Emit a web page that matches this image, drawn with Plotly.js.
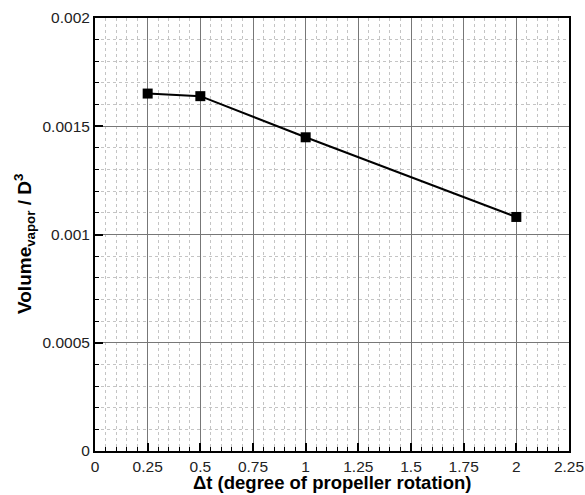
<!DOCTYPE html>
<html>
<head>
<meta charset="utf-8">
<script src="https://cdn.plot.ly/plotly-3.0.1.min.js"></script>
<style>html,body{margin:0;padding:0;background:#fff;}#chart{width:585px;height:495px;}</style>
</head>
<body>
<div id="chart"></div>
<script>
var timeStep = [0.25, 0.5, 1, 2];
var vaporVolume = [0.001651, 0.001639, 0.001449, 0.001081];
var xTickVals = [0, 0.25, 0.5, 0.75, 1, 1.25, 1.5, 1.75, 2, 2.25];
var xTickLabels = ["0", "0.25", "0.5", "0.75", "1", "1.25", "1.5", "1.75", "2", "2.25"];
var yTickVals = [0, 0.0005, 0.001, 0.0015, 0.002];
var yTickLabels = ["0", "0.0005", "0.001", "0.0015", "0.002"];
var xTitle = 'Δt (degree of propeller rotation)';
var yTitle = 'Volume<sub>vapor</sub> / D<sup>3</sup>';

var trace = {
  x: timeStep,
  y: vaporVolume,
  type: 'scatter',
  mode: 'lines+markers',
  line: {color: '#000', width: 2},
  marker: {symbol: 'square', size: 10, color: '#000'},
  showlegend: false
};

var fam = 'Liberation Sans, Arial, sans-serif';

function axis(range, vals, labels, minorStep) {
  return {
    range: range,
    tickvals: vals, ticktext: labels,
    ticks: 'inside', ticklen: 8, tickwidth: 2, tickcolor: '#000',
    showline: true, linecolor: '#000', linewidth: 2, mirror: true,
    showgrid: true, gridcolor: '#777', gridwidth: 1,
    zeroline: false,
    ticklabeloverflow: 'allow',
    tickfont: {family: fam, size: 15.5, color: '#222'},
    minor: {dtick: minorStep, tick0: 0, ticks: 'inside', ticklen: 4, tickwidth: 1, tickcolor: '#000',
            showgrid: true, gridcolor: '#c4c4c4', griddash: 'dot', gridwidth: 1}
  };
}

var layout = {
  width: 585, height: 495,
  margin: {l: 95, r: 16, t: 18, b: 44},
  paper_bgcolor: '#fff', plot_bgcolor: '#fff',
  font: {family: fam, color: '#000'},
  xaxis: axis([0, 2.25], xTickVals, xTickLabels, 0.05),
  yaxis: axis([0, 0.002], yTickVals, yTickLabels, 0.0001),
  annotations: [
    {text: xTitle, xref: 'paper', yref: 'paper', x: 0.5, y: -0.0739,
     xanchor: 'center', yanchor: 'middle', showarrow: false, borderpad: 0,
     font: {family: fam, size: 18.5, color: '#000', weight: 'bold'}},
    {text: yTitle, xref: 'paper', yref: 'paper', x: -0.1498, y: 0.478,
     xanchor: 'center', yanchor: 'middle', showarrow: false, textangle: -90,
     font: {family: fam, size: 19, color: '#000', weight: 'bold'}}
  ]
};

Plotly.newPlot('chart', [trace], layout, {displayModeBar: false, staticPlot: true});
</script>
</body>
</html>
